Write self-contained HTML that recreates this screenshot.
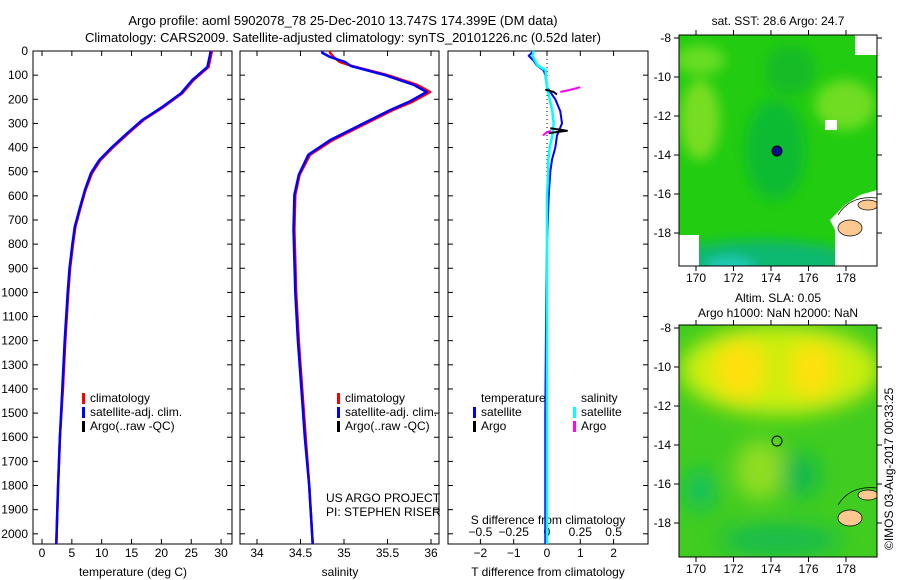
<!DOCTYPE html>
<html><head><meta charset="utf-8"><style>
body{margin:0;background:#fff}
svg{display:block;font-family:"Liberation Sans",sans-serif;font-size:12px}
</style></head><body>
<svg id="fig" width="900" height="580">
<defs>
<filter id="blur1" x="-20%" y="-20%" width="140%" height="140%"><feGaussianBlur stdDeviation="6"/></filter>
<filter id="blur2" x="-20%" y="-20%" width="140%" height="140%"><feGaussianBlur stdDeviation="10"/></filter>
<clipPath id="c1"><rect x="679" y="35" width="198" height="231"/></clipPath>
<clipPath id="c2"><rect x="679" y="325" width="198" height="232"/></clipPath>
</defs>
<text x="343" y="25" text-anchor="middle" font-size="13">Argo profile: aoml 5902078_78 25-Dec-2010 13.747S 174.399E (DM data)</text>
<text x="343" y="42" text-anchor="middle" font-size="13">Climatology: CARS2009. Satellite-adjusted climatology: synTS_20101226.nc (0.52d later)</text>
<g id="g"></g>
<!-- map 1 -->
<g clip-path="url(#c1)">
<rect x="679" y="35" width="198" height="231" fill="#22cc10"/>
<g filter="url(#blur1)">
<ellipse cx="700" cy="120" rx="20" ry="40" fill="#77dd22"/>
<ellipse cx="700" cy="60" rx="25" ry="15" fill="#66dd20"/>
<ellipse cx="845" cy="105" rx="30" ry="25" fill="#70dd22"/>
<ellipse cx="775" cy="150" rx="30" ry="50" fill="#10bb30"/>
<ellipse cx="790" cy="70" rx="25" ry="25" fill="#18bb28"/>
<ellipse cx="760" cy="260" rx="90" ry="20" fill="#10b870"/>
<ellipse cx="730" cy="268" rx="25" ry="10" fill="#20ccc0"/>
</g>
<rect x="855" y="35" width="22" height="20" fill="#fff"/>
<rect x="825" y="120" width="12" height="10" fill="#fff"/>
<path d="M835 266 L835 230 L830 220 L845 205 L860 195 L877 190 L877 266 Z" fill="#fff"/>
<rect x="679" y="235" width="20" height="31" fill="#fff"/>
<ellipse cx="850" cy="228" rx="12" ry="8" fill="#fcc890" stroke="#000" stroke-width="0.7"/>
<ellipse cx="868" cy="205" rx="10" ry="5" fill="#fcc890" stroke="#000" stroke-width="0.7"/>
<path d="M838 215 Q850 195 877 198" fill="none" stroke="#000" stroke-width="0.7"/>
<circle cx="777" cy="151" r="5" fill="#001090" stroke="#000" stroke-width="1"/>
</g>
<rect x="679" y="35" width="198" height="231" fill="none" stroke="#000"/>
<text x="778" y="25" text-anchor="middle">sat. SST: 28.6 Argo: 24.7</text>
<!-- map 2 -->
<g clip-path="url(#c2)">
<rect x="679" y="325" width="198" height="232" fill="#40cc20"/>
<g filter="url(#blur2)">
<ellipse cx="780" cy="370" rx="100" ry="45" fill="#ccee10"/>
<ellipse cx="740" cy="370" rx="25" ry="30" fill="#ffe010"/>
<ellipse cx="812" cy="370" rx="22" ry="28" fill="#ffe010"/>
<ellipse cx="760" cy="470" rx="25" ry="30" fill="#90dd20"/>
<ellipse cx="800" cy="475" rx="18" ry="22" fill="#10b850"/>
<ellipse cx="700" cy="490" rx="15" ry="20" fill="#10c060"/>
<ellipse cx="780" cy="540" rx="60" ry="15" fill="#18bb50"/>
</g>
<ellipse cx="850" cy="518" rx="12" ry="8" fill="#fcc890" stroke="#000" stroke-width="0.7"/>
<ellipse cx="868" cy="495" rx="10" ry="5" fill="#fcc890" stroke="#000" stroke-width="0.7"/>
<path d="M838 505 Q850 485 877 488" fill="none" stroke="#000" stroke-width="0.7"/>
<circle cx="777" cy="441" r="5" fill="none" stroke="#000" stroke-width="1"/>
</g>
<rect x="679" y="325" width="198" height="232" fill="none" stroke="#000"/>
<text x="778" y="302" text-anchor="middle">Altim. SLA: 0.05</text>
<text x="778" y="317" text-anchor="middle">Argo h1000: NaN h2000: NaN</text>
<text transform="translate(893,550) rotate(-90)" font-size="12">©IMOS 03-Aug-2017 00:33:25</text>
</svg>
<script>
// data
const depthT=[0,8,66,120,175,231,286,340,397,452,506,575,645,728,800,900,1000,1200,1400,1600,1800,2042];
const tempClim=[28.5,28.4,27.9,25.4,23.5,20.4,17.0,14.5,12.0,9.8,8.4,7.3,6.5,5.6,5.2,4.7,4.4,3.9,3.5,3.0,2.7,2.4];
const tempSat=[28.2,28.2,27.7,25.2,23.3,20.2,16.8,14.3,11.8,9.6,8.2,7.2,6.4,5.5,5.1,4.6,4.3,3.8,3.4,3.0,2.7,2.4];
const depthS=[0,8,25,45,62,100,140,170,210,245,306,369,430,513,596,740,1000,1200,1400,1600,1800,2042];
const salClim=[34.84,34.84,34.88,34.95,35.09,35.5,35.84,35.99,35.79,35.56,35.22,34.87,34.61,34.49,34.44,34.43,34.45,34.48,34.52,34.56,34.6,34.64];
const salSat=[34.75,34.75,34.84,35.01,35.08,35.47,35.8,35.95,35.75,35.53,35.19,34.84,34.59,34.48,34.43,34.42,34.44,34.47,34.51,34.55,34.6,34.64];
const depthD=[0,20,40,60,80,100,150,200,250,300,350,400,450,500,600,800,1000,1500,2042];
const dTsat=[-0.4,-0.55,-0.4,-0.3,-0.1,-0.05,0,0.25,0.4,0.45,0.3,0.25,0.15,0.1,0.05,0,-0.02,-0.05,-0.05];
const dSsat=[-0.1,-0.11,-0.09,-0.07,-0.01,-0.01,0,0.02,0.04,0.05,0.04,0.02,0.01,0.01,0,0,0,0,0];
const argoTd=[160,170,180,320,330,340];
const argoT=[-0.05,0.2,0.3,0.1,0.6,0.05];
const argoSd=[150,160,170,330,340,350];
const argoS=[0.25,0.18,0.1,0.03,-0.01,-0.03];
const depthTicks=[0,100,200,300,400,500,600,700,800,900,1000,1100,1200,1300,1400,1500,1600,1700,1800,1900,2000];
const tTicks=[0,5,10,15,20,25,30];
const sTicks=[34,34.5,35,35.5,36];
const dTicks=[-2,-1,0,1,2];
const dsTicks=[-0.5,-0.25,0,0.25,0.5];
const latTicks=[-8,-10,-12,-14,-16,-18];
const lonTicks=[170,172,174,176,178];

const NS='http://www.w3.org/2000/svg';
const G=document.getElementById('g');
function el(t,a,p){const e=document.createElementNS(NS,t);for(const k in a)e.setAttribute(k,a[k]);(p||G).appendChild(e);return e;}
const Y=d=>51+d*0.2414;
const TX=v=>42+v*5.97, SX=v=>257+(v-34)*87, DX=v=>547+v*33.3, DSX=v=>547+v*133.2;
const yTop=51,bot=544;
const panels=[[33,232],[240,439],[448,648]];
panels.forEach((p,i)=>{
 const r=el('rect',{x:p[0],y:yTop,width:p[1]-p[0],height:bot-yTop,fill:'none',stroke:'#000'});
 
 
 depthTicks.forEach(d=>{
  el('line',{x1:p[0],x2:p[0]+5,y1:Y(d),y2:Y(d),stroke:'#000'});
  el('line',{x1:p[1],x2:p[1]-5,y1:Y(d),y2:Y(d),stroke:'#000'});
 });
});
depthTicks.forEach(d=>{const t=el('text',{x:28,y:Y(d)+4,'text-anchor':'end'});t.textContent=d;
 
 });
function xt(arr,f,yy){arr.forEach(v=>{el('line',{x1:f(v),x2:f(v),y1:bot,y2:bot-5,stroke:'#000'});el('line',{x1:f(v),x2:f(v),y1:yTop,y2:yTop+5,stroke:'#000'});
 const t=el('text',{x:f(v),y:yy,'text-anchor':'middle'});t.textContent=(v<0?'\u2212'+(-v):v);
 
 });}
xt(tTicks,TX,557);xt(sTicks,SX,557);xt(dTicks,DX,557);
dsTicks.forEach(v=>{const t=el('text',{x:DSX(v),y:536,'text-anchor':'middle'});t.textContent=(v<0?'\u2212'+(-v):v);
 
 });
function lab(x,y,s,n){const t=el('text',{x:x,y:y,'text-anchor':'middle'});t.textContent=s;
 
 return t;}
lab(133,576,'temperature (deg C)','x-axis-title-temperature');
lab(340,576,'salinity','x-axis-title-salinity');
lab(548,576,'T difference from climatology','x-axis-title-t-diff');
lab(548,524,'S difference from climatology','x-axis-title-s-diff');
function line(xs,ds,f,c,w,n){const pts=xs.map((v,i)=>f(v).toFixed(1)+','+Y(ds[i]).toFixed(1)).join(' ');
 const l=el('polyline',{points:pts,fill:'none',stroke:c,'stroke-width':w,'stroke-linejoin':'round'});
 
 }
line(tempClim,depthT,TX,'#f00',2.5,'temp-climatology-line');
line(tempSat,depthT,TX,'#00f',2.5,'temp-satellite-line');
line(salClim,depthS,SX,'#f00',2.5,'sal-climatology-line');
line(salSat,depthS,SX,'#00f',2.5,'sal-satellite-line');
el('line',{x1:547,x2:547,y1:yTop,y2:bot,stroke:'#000','stroke-dasharray':'1,3'});
line(dTsat,depthD,DX,'#00f',2,'t-diff-satellite-line');
line(dSsat,depthD,DSX,'#0ff',2.5,'s-diff-satellite-line');
line(argoT.slice(0,3),argoTd.slice(0,3),DX,'#000',2,'t-diff-argo-upper');
line(argoT.slice(3),argoTd.slice(3),DX,'#000',2,'t-diff-argo-lower');
line(argoS.slice(0,3),argoSd.slice(0,3),DSX,'#f0f',2,'s-diff-argo-upper');
line(argoS.slice(3),argoSd.slice(3),DSX,'#f0f',2,'s-diff-argo-lower');
function leg(x,y,c,s,n){el('rect',{x:x,y:y-9,width:3,height:11,fill:c});const t=el('text',{x:x+8,y:y});t.textContent=s;
 
 }
leg(82,402,'#f00','climatology','legend-climatology-1');leg(82,416,'#00f','satellite-adj. clim.','legend-satellite-1');leg(82,430,'#000','Argo(..raw -QC)','legend-argo-1');
leg(337,402,'#f00','climatology','legend-climatology-2');leg(337,416,'#00f','satellite-adj. clim.','legend-satellite-2');leg(337,430,'#000','Argo(..raw -QC)','legend-argo-2');
lab(481,402,'temperature','legend-temperature-header').setAttribute('text-anchor','start');
lab(581,402,'salinity','legend-salinity-header').setAttribute('text-anchor','start');
leg(473,416,'#00f','satellite','legend-t-satellite');leg(473,430,'#000','Argo','legend-t-argo');
leg(573,416,'#0ff','satellite','legend-s-satellite');leg(573,430,'#f0f','Argo','legend-s-argo');
const a=lab(326,502,'US ARGO PROJECT','project-label');a.setAttribute('text-anchor','start');
const b=lab(326,516,'PI: STEPHEN RISER','pi-label');b.setAttribute('text-anchor','start');
// map ticks
[[38,233,35,266],[328,523,325,557]].forEach(m=>{
 const ly=v=>m[0]+(-8-v)*(m[1]-m[0])/10;
 latTicks.forEach(v=>{el('line',{x1:679,x2:674,y1:ly(v),y2:ly(v),stroke:'#000'});el('line',{x1:877,x2:882,y1:ly(v),y2:ly(v),stroke:'#000'});
  const t=el('text',{x:671,y:ly(v)+4,'text-anchor':'end'});t.textContent='-'+(-v);
  
  });
 const lx=v=>696+(v-170)*18.75;
 lonTicks.forEach(v=>{el('line',{x1:lx(v),x2:lx(v),y1:m[2],y2:m[2]-5,stroke:'#000'});el('line',{x1:lx(v),x2:lx(v),y1:m[3],y2:m[3]+5,stroke:'#000'});
  const t=el('text',{x:lx(v),y:m[3]+16,'text-anchor':'middle'});t.textContent=v;
  
  });
});
</script>
</body></html>
